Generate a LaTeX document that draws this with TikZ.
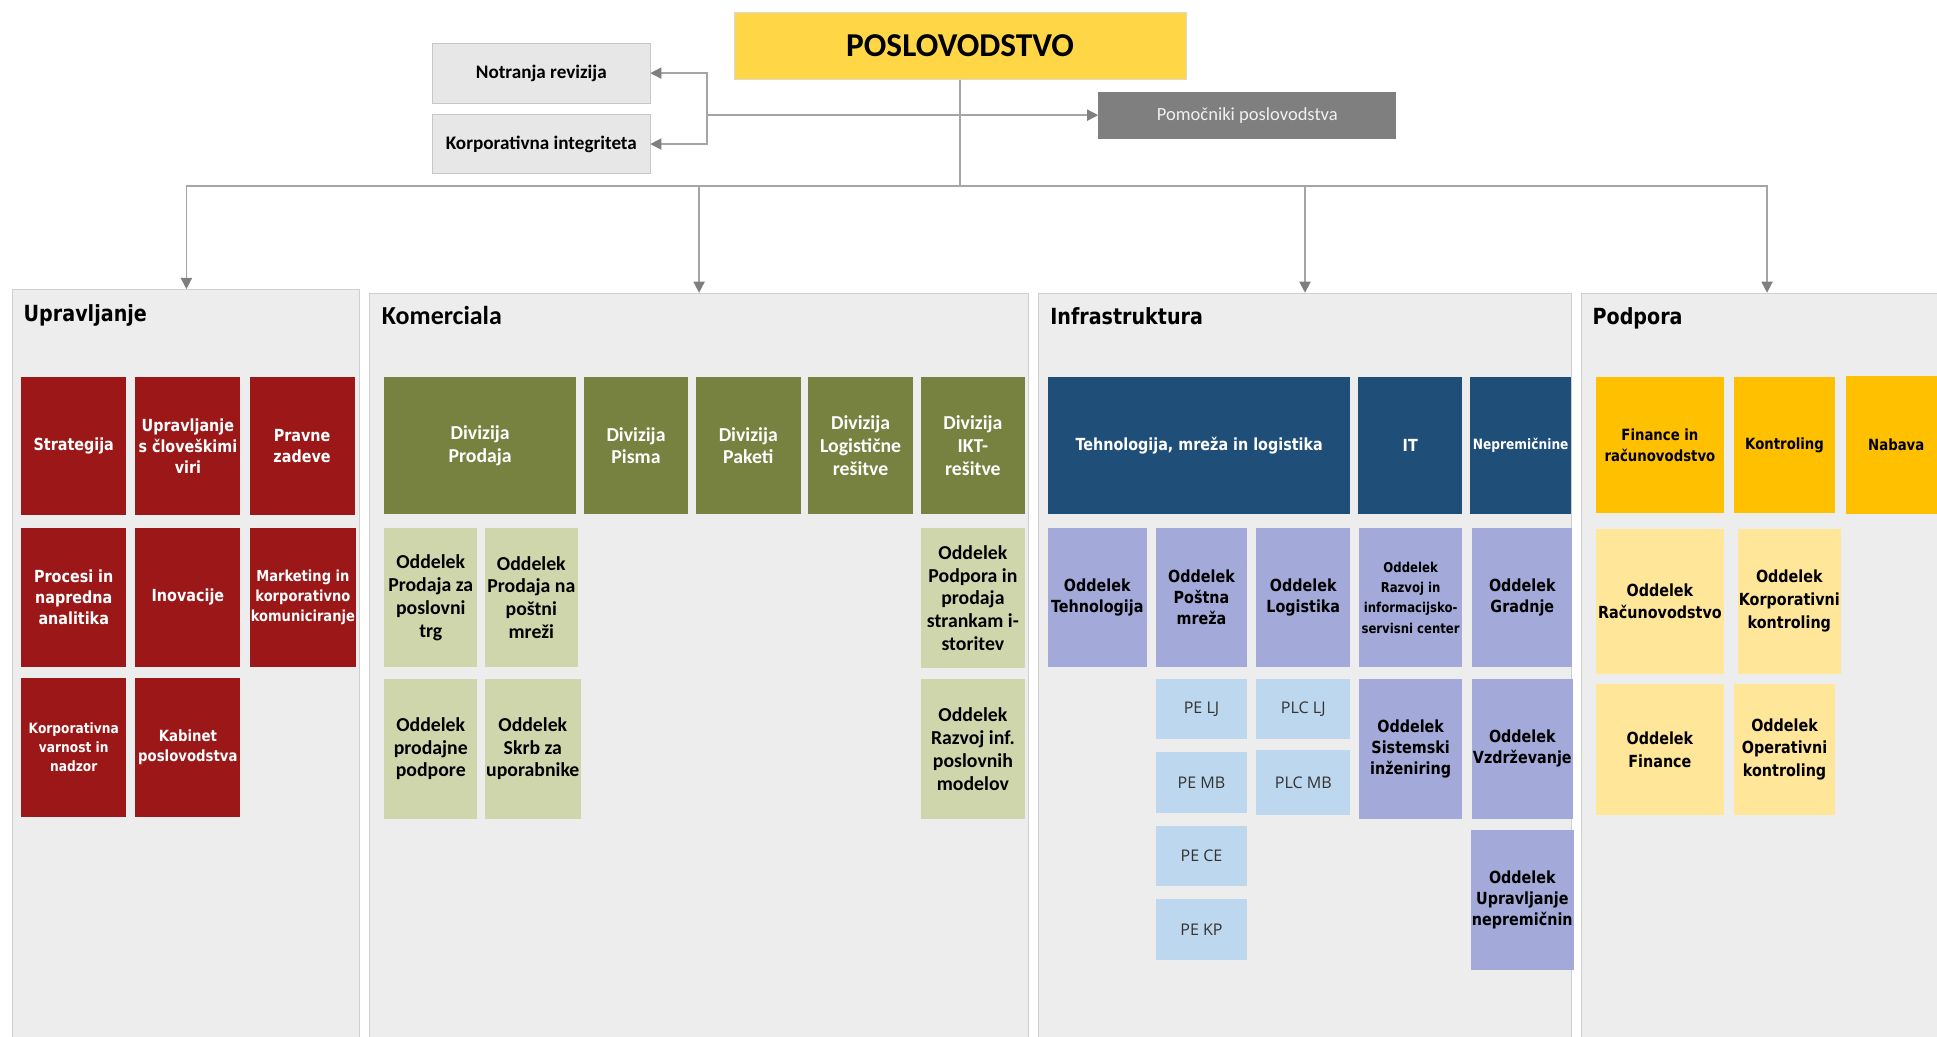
\documentclass[tikz,border=0pt]{standalone}
\usepackage{fontspec}
\usetikzlibrary{arrows.meta,positioning,calc}
\newfontfamily\tahomafont[FakeStretch=0.86]{DejaVu Sans}
\newfontfamily\myriadfont{Carlito}
\newfontfamily\segoefont{Open Sans}
\newcommand{\tbox}{\tahomafont\bfseries\fontsize{13.5}{17}\selectfont}
\newcommand{\tsmall}{\tahomafont\bfseries\fontsize{11.5}{15.5}\selectfont}
\newcommand{\kbox}{\myriadfont\bfseries\fontsize{16}{18.5}\selectfont}
\definecolor{poslyellow}{HTML}{FFD645}
\definecolor{staffgray}{HTML}{E7E7E7}
\definecolor{asstgray}{HTML}{7F7F7F}
\definecolor{panelgray}{HTML}{EDEDED}
\definecolor{panelline}{HTML}{CFCFCF}
\definecolor{upravred}{HTML}{9B1718}
\definecolor{komolive}{HTML}{778140}
\definecolor{komlight}{HTML}{D0D6AC}
\definecolor{infblue}{HTML}{1F4E79}
\definecolor{inflav}{HTML}{A3A9D9}
\definecolor{infsky}{HTML}{BDD7EE}
\definecolor{podamber}{HTML}{FFC000}
\definecolor{podlight}{HTML}{FFE699}
\definecolor{linegray}{HTML}{A5A5A5}
\definecolor{arrowgray}{HTML}{7F7F7F}
\begin{document}
\begin{tikzpicture}[%
    x=1pt, y=-1pt,
    >={Triangle[width=9pt,length=9pt,color=arrowgray]},
    conn/.style={draw=linegray, line width=1.3pt},
    panel/.style={rectangle, anchor=north west, fill=panelgray, draw=panelline, line width=0.8pt},
    ptitle/.style={anchor=base west, inner sep=0pt, font=\tahomafont\bfseries\fontsize{18}{20}\selectfont},
    unit/.style={rectangle, anchor=north west, inner sep=1pt, align=center},
    staffbox/.style={unit, fill=staffgray, draw=black!22, minimum width=176, minimum height=48, font=\myriadfont\bfseries\fontsize{15.5}{18}\selectfont},
    redbox/.style={unit, fill=upravred, text=white, minimum width=85, minimum height=112, font=\tbox},
    divbox/.style={unit, fill=komolive, text=white, minimum width=84.5, minimum height=111, font=\kbox},
    odbox/.style={unit, fill=komlight, minimum width=75, minimum height=113, font=\kbox},
    tmlbox/.style={unit, fill=infblue, text=white, minimum height=111, font=\tbox},
    infbox/.style={unit, fill=inflav, minimum height=113, font=\tbox},
    pebox/.style={unit, fill=infsky, text=black!80, minimum width=74, minimum height=49, font=\segoefont\fontsize{13}{15}\selectfont},
    ambox/.style={unit, fill=podamber, font=\tahomafont\bfseries\fontsize{12.5}{17}\selectfont},
    lambox/.style={unit, fill=podlight, font=\tahomafont\bfseries\fontsize{13.5}{18.5}\selectfont},
  ]
  \useasboundingbox (0,0) rectangle (1568,839);

  % --- vodstvo ---
  \node[unit, fill=poslyellow, draw=black!15, minimum width=366, minimum height=54, font=\myriadfont\bfseries\fontsize{27}{30}\selectfont] (posl) at (594,10) {POSLOVODSTVO};
  \node[staffbox] (notr) at (350,35) {Notranja revizija};
  \node[staffbox, below=9pt of notr] (korpint) {Korporativna integriteta};
  \node[unit, fill=asstgray, text=white!94!black, minimum width=241, minimum height=38, font=\myriadfont\fontsize{15}{18}\selectfont] (pomoc) at (889,74) {Pomočniki poslovodstva};

  % --- panels ---
  \node[panel, minimum width=281, minimum height=606] (uprav) at (10,234) {};
  \node[panel, minimum width=533, minimum height=603] (komer) at (299,237) {};
  \node[panel, minimum width=432, minimum height=603] (infra) at (840,237) {};
  \node[panel, minimum width=300, minimum height=603] (podp) at (1280,237) {};
  \node[ptitle] at ($(uprav.north west)+(9,26)$) {Upravljanje};
  \node[ptitle, font=\myriadfont\bfseries\fontsize{21}{24}\selectfont] at ($(komer.north west)+(10,26)$) {Komerciala};
  \node[ptitle] at ($(infra.north west)+(10,26)$) {Infrastruktura};
  \node[ptitle] at ($(podp.north west)+(9,26)$) {Podpora};

  % Upravljanje
  \node[redbox] (strat) at (17,305) {Strategija};
  \node[redbox, right=7pt of strat] (kadri) {Upravljanje\\s človeškimi\\viri};
  \node[redbox, right=7pt of kadri] (pravo) {Pravne\\zadeve};
  \node[redbox, below=10pt of strat] (procesi) {Procesi in\\napredna\\analitika};
  \node[redbox, right=7pt of procesi] (inov) {Inovacije};
  \node[redbox, right=7pt of inov, font=\tahomafont\bfseries\fontsize{12.3}{16.5}\selectfont] (market) {Marketing in\\korporativno\\komuniciranje};
  \node[redbox, below=9pt of procesi, font=\tsmall] (varnost) {Korporativna\\varnost in\\nadzor};
  \node[redbox, right=7pt of varnost, font=\tahomafont\bfseries\fontsize{12.5}{16}\selectfont] (kabinet) {Kabinet\\poslovodstva};

  % Komerciala
  \node[divbox, minimum width=155] (divprod) at (311,305) {Divizija\\Prodaja};
  \node[divbox, right=6pt of divprod] (pisma) {Divizija\\Pisma};
  \node[divbox, right=6pt of pisma] (paketi) {Divizija\\Paketi};
  \node[divbox, right=6pt of paketi] (logres) {Divizija\\Logistične\\rešitve};
  \node[divbox, right=6pt of logres] (ikt) {Divizija\\IKT-\\rešitve};
  \node[odbox] (prodza) at (311,427) {Oddelek\\Prodaja za\\poslovni\\trg};
  \node[odbox, right=6pt of prodza] (prodna) {Oddelek\\Prodaja na\\poštni\\mreži};
  \node[odbox, minimum width=84.5, below=11pt of ikt] (iktpodp) {Oddelek\\Podpora in\\prodaja\\strankam i-\\storitev};
  \node[odbox, below=9pt of prodza] (prodpodp) {Oddelek\\prodajne\\podpore};
  \node[odbox, right=6pt of prodpodp] (skrb) {Oddelek\\Skrb za\\uporabnike};
  \node[odbox, minimum width=84.5, below=9pt of iktpodp] (razvinf) {Oddelek\\Razvoj inf.\\poslovnih\\modelov};

  % Infrastruktura
  \node[tmlbox, minimum width=245] (tml) at (848,305) {Tehnologija, mreža in logistika};
  \node[tmlbox, minimum width=84, right=6pt of tml] (it) {IT};
  \node[tmlbox, minimum width=82, right=6pt of it, font=\tsmall] (nepr) {Nepremičnine};
  \node[infbox, minimum width=80] (oteh) at (848,427) {Oddelek\\Tehnologija};
  \node[infbox, minimum width=74, right=7pt of oteh] (opost) {Oddelek\\Poštna\\mreža};
  \node[infbox, minimum width=76, right=7pt of opost] (olog) {Oddelek\\Logistika};
  \node[infbox, minimum width=83, right=7pt of olog, font=\tahomafont\bfseries\fontsize{11}{16.5}\selectfont] (orazv) {Oddelek\\Razvoj in\\informacijsko-\\servisni center};
  \node[infbox, minimum width=81, right=8pt of orazv] (ograd) {Oddelek\\Gradnje};
  \node[pebox, below=9pt of opost] (pelj) {PE LJ};
  \node[pebox, below=10pt of pelj] (pemb) {PE MB};
  \node[pebox, below=10pt of pemb] (pece) {PE CE};
  \node[pebox, below=10pt of pece] (pekp) {PE KP};
  \node[pebox, minimum width=76, below=9pt of olog] (plclj) {PLC LJ};
  \node[pebox, minimum width=76, minimum height=53, below=8pt of plclj] (plcmb) {PLC MB};
  \node[infbox, minimum width=83, below=9pt of orazv] (osist) {Oddelek\\Sistemski\\inženiring};
  \node[infbox, minimum width=81, below=9pt of ograd] (ovzdr) {Oddelek\\Vzdrževanje};
  \node[infbox, minimum width=81, below=9pt of ovzdr] (onepr) {Oddelek\\Upravljanje\\nepremičnin};

  % Podpora
  \node[ambox, minimum width=103, minimum height=110] (finrac) at (1292,305) {Finance in\\računovodstvo};
  \node[ambox, minimum width=82, minimum height=110, right=8pt of finrac] (kontr) {Kontroling};
  \node[ambox, minimum width=82, minimum height=111, right=8pt of kontr] (nabava) {Nabava};
  \node[lambox, minimum width=103, minimum height=117] (orac) at (1292,428) {Oddelek\\Računovodstvo};
  \node[lambox, minimum width=79, minimum height=117, right=11pt of orac] (okorp) {Oddelek\\Korporativni\\kontroling};
  \node[lambox, minimum width=103, minimum height=106, below=8pt of orac] (ofin) {Oddelek\\Finance};
  \node[lambox, minimum width=82, minimum height=106, right=8pt of ofin] (ooper) {Oddelek\\Operativni\\kontroling};

  % --- connectors ---
  \draw[conn] (posl.south) -- ++(0,86) coordinate (bus);
  \foreach \p in {uprav,komer,infra,podp}
    \draw[conn,->] (bus) -| (\p.north);
  \coordinate (split) at ($(notr.east)+(46,0)$);
  \draw[conn,->] (split |- pomoc.west) -- (pomoc.west);
  \draw[conn,->] (split |- pomoc.west) |- (notr.east);
  \draw[conn,->] (split |- pomoc.west) |- (korpint.east);
\end{tikzpicture}
\end{document}
